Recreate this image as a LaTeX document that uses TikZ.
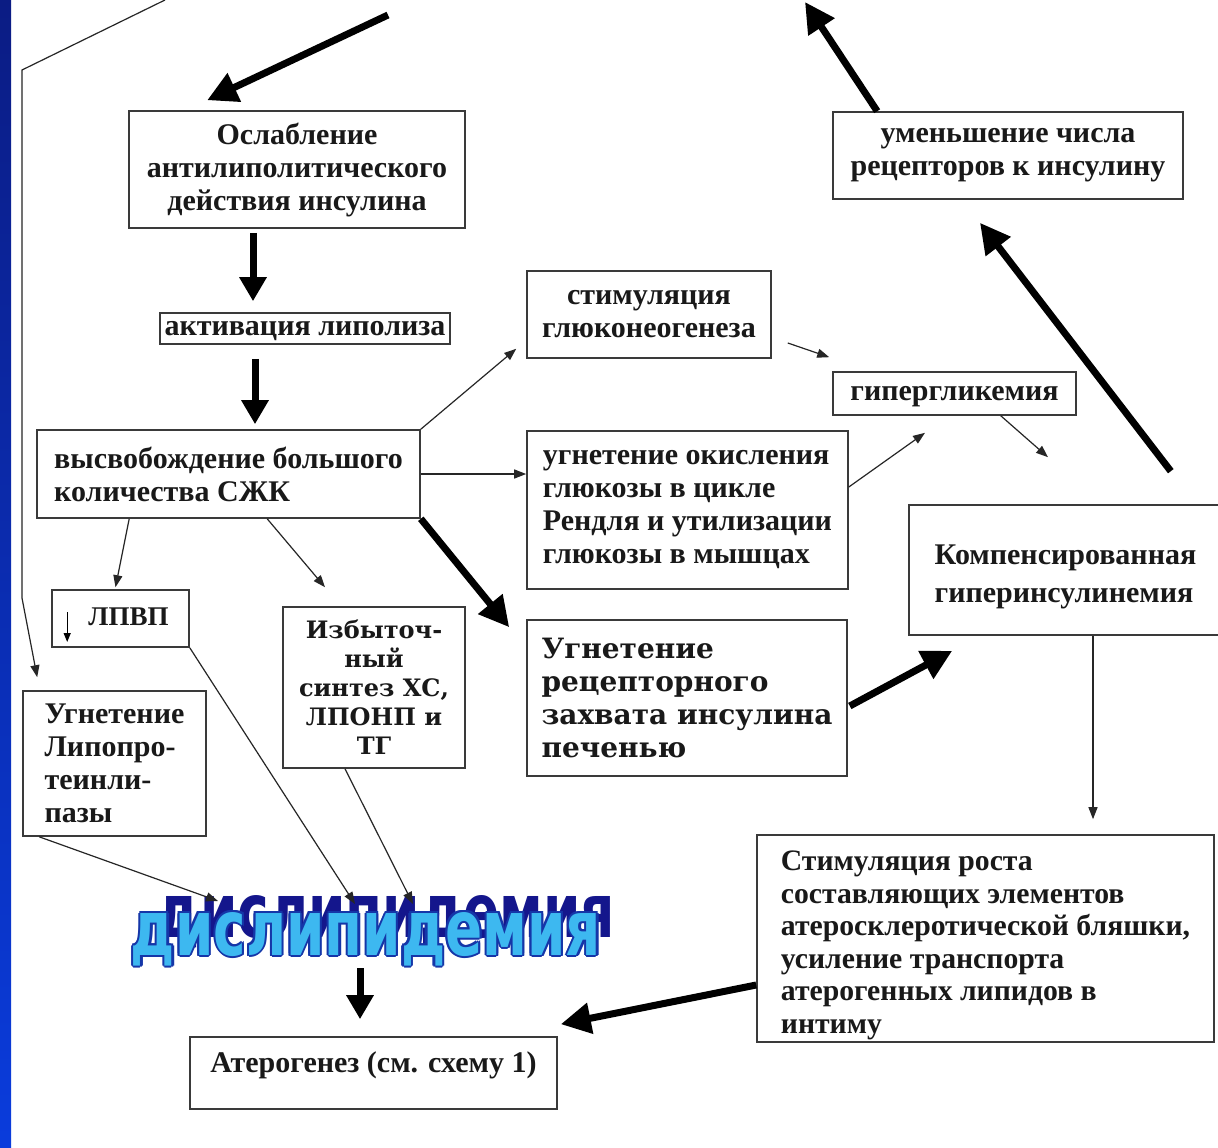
\documentclass[tikz,border=0pt]{standalone}
\usepackage{fontspec}
\setmainfont{Liberation Serif}
\newfontfamily\wideserif{DejaVu Serif}
\newfontfamily\wasans{DejaVu Sans}
\usetikzlibrary{arrows.meta,calc}
\definecolor{boxline}{HTML}{3A3A3A}
\definecolor{barTop}{HTML}{0B1C84}
\definecolor{barBot}{HTML}{0A3CDC}
\definecolor{waFill}{HTML}{3DB8F0}
\definecolor{waEdge}{HTML}{1536A8}
\definecolor{waShadow}{HTML}{14168C}
\begin{document}
\begin{tikzpicture}[x=1pt,y=-1pt,
  box/.style={draw=boxline, line width=1.6pt, inner xsep=4pt, inner ysep=0pt,
    font=\bfseries\fontsize{30}{33}\selectfont, text=black!90},
  oneline/.style={text height=20pt, text depth=7pt},
  widebox/.style={box, font=\wideserif\bfseries\fontsize{28}{33}\selectfont},
  heavyarr/.style={line width=7pt, draw=black, -{Triangle[length=30pt,width=30pt]}},
  midarr/.style={line width=7pt, draw=black, -{Triangle[length=24pt,width=26pt]}},
  lightarr/.style={line width=1.2pt, draw=black!85, -{Triangle[length=12pt,width=9pt]}},
  wa/.style={inner sep=0pt, font=\wasans\bfseries\fontsize{60}{60}\selectfont}
]
\useasboundingbox (0,0) rectangle (1218,1148);
\fill[white] (0,0) rectangle (1218,1148);
\shade[top color=barTop, bottom color=barBot] (0,0) rectangle (11,1148);

% boxes
\node[box, minimum width=336pt, minimum height=117pt, align=center] (osl) at (297,169.5)
  {Ослабление\\антилиполитического\\действия инсулина};
\node[box, oneline, minimum width=290pt, minimum height=31pt] (akt) at (305,328.5)
  {активация липолиза};
\node[box, minimum width=383pt, minimum height=88pt, align=left] (vys) at (228.5,474)
  {высвобождение большого\\количества СЖК};
\node[box, minimum width=244pt, minimum height=87pt, align=center] (stim) at (649,314.5)
  {стимуляция\\глюконеогенеза};
\node[box, oneline, minimum width=243pt, minimum height=43pt] (giper) at (954.5,393.5)
  {гипергликемия};
\node[box, minimum width=321pt, minimum height=158pt, align=left] (ugnok) at (687.5,510)
  {угнетение окисления\\глюкозы в цикле\\Рендля и утилизации\\глюкозы в мышцах};
\node[box, font=\bfseries\fontsize{30}{38}\selectfont, minimum width=313pt, minimum height=130pt, align=left] (komp) at (1065.5,570)
  {\rule{0pt}{34pt}Компенсированная\\гиперинсулинемия};
\node[box, minimum width=350pt, minimum height=87pt, align=center] (umen) at (1008,155.5)
  {уменьшение числа\\рецепторов к инсулину};
\node[box, oneline, font=\bfseries\fontsize{27}{33}\selectfont, minimum width=137pt, minimum height=57pt] (lpvp) at (120.5,618.5)
  {\hspace*{16pt}ЛПВП};
\node[box, minimum width=183pt, minimum height=145pt, align=left] (ugnlpl) at (114.5,763.5)
  {Угнетение\\Липопро-\\теинли-\\пазы};
\node[widebox, font=\wideserif\bfseries\fontsize{24}{29}\selectfont, minimum width=182pt, minimum height=161pt, align=center] (izb) at (374,687.5)
  {Избыточ-\\ный\\синтез ХС,\\ЛПОНП и\\ТГ};
\node[widebox, minimum width=320pt, minimum height=156pt, align=left] (ugnrec) at (687,698)
  {Угнетение\\рецепторного\\захвата инсулина\\печенью};
\node[box, font=\bfseries\fontsize{29.7}{32.5}\selectfont, minimum width=457pt, minimum height=207pt, align=left] (stimr) at (985.5,938.5)
  {\rule{0pt}{33pt}Стимуляция роста\\составляющих элементов\\атеросклеротической бляшки,\\усиление транспорта\\атерогенных липидов в\\интиму};
\node[box, text height=20pt, text depth=21pt, minimum width=367pt, minimum height=72pt] (ater) at (373.5,1073)
  {Атерогенез (см. схему 1)};

% word art
\coordinate (dyslc) at (366,939);
\node[wa, text=waShadow] (dyslsh) at ([xshift=20pt,yshift=17pt]dyslc)
  {\resizebox{458pt}{42pt}{дислипидемия}};
\foreach \dx/\dy [count=\i] in {-2.2/0,2.2/0,0/-2.2,0/2.2,-1.6/-1.6,1.6/1.6,-1.6/1.6,1.6/-1.6}
  \node[wa, text=waEdge] (dysle\i) at ([xshift=\dx pt,yshift=\dy pt]dyslc)
  {\resizebox{470pt}{43pt}{дислипидемия}};
\node[wa, text=waFill] (dysl) at (dyslc) {\resizebox{470pt}{43pt}{дислипидемия}};

% free ends
\coordinate (topsrc) at (388,15);
\coordinate (uptip) at (805,2);
\coordinate (lsrc) at (165,0);
\coordinate (lbend1) at (22,70);
\coordinate (lbend2) at (22,598);

% heavy arrows
\draw[heavyarr] (topsrc) -- ([xshift=79pt,yshift=10pt]osl.north west);
\draw[midarr] ([xshift=-44pt,yshift=-4pt]osl.south) -- ([xshift=-52pt,yshift=11pt]akt.north);
\draw[midarr] ([xshift=-50pt,yshift=-14pt]akt.south) -- ([xshift=26.5pt,yshift=5pt]vys.north);
\draw[heavyarr] (vys.south east) -- ([xshift=-17pt,yshift=-8pt]ugnrec.north west);
\draw[heavyarr] ([xshift=-52pt,yshift=33pt]komp.north east) -- ([xshift=-28pt,yshift=-23pt]umen.south);
\draw[heavyarr] ([xshift=45pt]umen.north west) -- (uptip);
\draw[heavyarr] ([xshift=2pt,yshift=-8pt]ugnrec.east) -- ([xshift=44pt,yshift=-15pt]komp.south west);
\draw[heavyarr] ([yshift=-46.5pt]stimr.west) -- ([xshift=3pt,yshift=12pt]ater.north east);
\draw[midarr] ([xshift=-6pt,yshift=-29pt]dyslc) -- ([xshift=-13.5pt,yshift=17pt]ater.north);

% light arrows
\draw[lightarr] (vys.north east) -- ([xshift=-10pt,yshift=10pt]stim.south west);
\draw[lightarr] (vys.east) -- (vys.east -| ugnok.west);
\draw[lightarr] ([xshift=93pt]vys.south west) -- ([xshift=-5pt,yshift=2pt]lpvp.north);
\draw[lightarr] ([xshift=231pt]vys.south west) -- ([xshift=-49pt,yshift=19pt]izb.north);
\draw[lightarr] ([xshift=16pt,yshift=-28.5pt]stim.east) -- ([xshift=-3pt,yshift=14pt]giper.north west);
\draw[lightarr] ([yshift=23pt]ugnok.east) -- ([xshift=-29.5pt,yshift=-17pt]giper.south);
\draw[lightarr] ([xshift=-76pt]giper.south east) -- ([xshift=-17.5pt,yshift=47pt]komp.north);
\draw[lightarr] ([xshift=27.5pt]komp.south) -- ([xshift=107.5pt,yshift=15pt]stimr.north);
\draw[lightarr] ([xshift=17pt]ugnlpl.south west) -- ([xshift=-148pt,yshift=38pt]dyslc);
\draw[lightarr] (lpvp.south east) -- ([xshift=-11pt,yshift=35pt]dyslc);
\draw[lightarr] ([xshift=-29pt]izb.south) -- ([xshift=47pt,yshift=35pt]dyslc);
\draw[lightarr] (lsrc) -- (lbend1) -- (lbend2) -- ([xshift=15pt,yshift=13pt]ugnlpl.north west);
\draw[line width=1.2pt, -{Triangle[length=9pt,width=7pt]}] ([xshift=16pt,yshift=6.5pt]lpvp.west) -- ([xshift=16pt,yshift=-23.5pt]lpvp.west);
\end{tikzpicture}
\end{document}
